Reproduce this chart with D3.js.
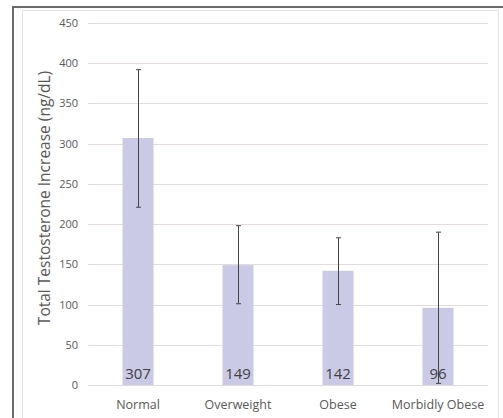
<!DOCTYPE html>
<html>
<head>
<meta charset="utf-8">
<script src="https://cdn.jsdelivr.net/npm/d3@7"></script>
<style>
  html, body { margin: 0; padding: 0; background: #fff; }
  svg { display: block; }
</style>
</head>
<body>
<svg id="chart" width="503" height="418"></svg>
<script>
// Mean testosterone increase by BMI group, with error bar bounds
const categories = ["Normal", "Overweight", "Obese", "Morbidly Obese"];
const means = [307, 149, 142, 96];
const errLow = [221, 101, 100, 2];
const errHigh = [392, 198, 183, 190];
const yTicks = [0, 50, 100, 150, 200, 250, 300, 350, 400, 450];
const yTitle = "Total Testosterone Increase (ng/dL)";

const svg = d3.select("#chart");
const font = "'Open Sans', 'Noto Sans', sans-serif";

// frame
svg.append("rect").attr("x", 13).attr("y", 7).attr("width", 500).attr("height", 420)
  .attr("fill", "none").attr("stroke", "#6b6b6b").attr("stroke-width", 2);
svg.append("rect").attr("x", 22.5).attr("y", 10.5).attr("width", 476).attr("height", 420)
  .attr("fill", "none").attr("stroke", "#e4e4e4").attr("stroke-width", 1);

const x = d3.scaleBand().domain(categories).range([88, 488]).paddingInner(0.69).paddingOuter(0.345);
const y = d3.scaleLinear().domain([0, 450]).range([385, 23]);

// gridlines
svg.append("g").selectAll("line").data(yTicks).join("line")
  .attr("x1", 88).attr("x2", 488)
  .attr("y1", d => Math.round(y(d)) + 0.5).attr("y2", d => Math.round(y(d)) + 0.5)
  .attr("stroke", "#e2dcdc").attr("stroke-width", 1);

// y axis tick labels
const yAxis = svg.append("g").attr("transform", "translate(88,0)")
  .call(d3.axisLeft(y).tickValues(yTicks).tickSize(0).tickPadding(10));
yAxis.select(".domain").remove();
yAxis.selectAll("text").attr("fill", "#595959").style("font-family", font).style("font-size", "11px");

// bars
svg.append("g").selectAll("rect").data(categories).join("rect")
  .attr("x", d => x(d)).attr("width", x.bandwidth())
  .attr("y", (d, i) => y(means[i])).attr("height", (d, i) => y(0) - y(means[i]))
  .attr("fill", "#cacae6");

// error bars
const eb = svg.append("g").attr("stroke", "#444").attr("stroke-width", 1);
categories.forEach((c, i) => {
  const cx = Math.round(x(c) + x.bandwidth() / 2) + 0.5;
  eb.append("line").attr("x1", cx).attr("x2", cx).attr("y1", y(errLow[i])).attr("y2", y(errHigh[i]));
  [errLow[i], errHigh[i]].forEach(v => {
    eb.append("line").attr("x1", cx - 2.5).attr("x2", cx + 2.5).attr("y1", y(v)).attr("y2", y(v));
  });
});

// value labels inside bars
svg.append("g").selectAll("text").data(categories).join("text")
  .attr("x", d => x(d) + x.bandwidth() / 2).attr("y", 379)
  .attr("text-anchor", "middle").attr("fill", "#404040")
  .style("font-family", font).style("font-size", "15px")
  .text((d, i) => means[i]);

// category axis
const xAxis = svg.append("g").attr("transform", "translate(0,385)")
  .call(d3.axisBottom(x).tickSize(0).tickPadding(15));
xAxis.select(".domain").remove();
xAxis.selectAll("text").attr("fill", "#595959").style("font-family", font).style("font-size", "12.5px");

// y axis title
svg.append("text")
  .attr("transform", "translate(50,198) rotate(-90)")
  .attr("text-anchor", "middle").attr("fill", "#595959")
  .style("font-family", font).style("font-size", "15.5px")
  .text(yTitle);
</script>
</body>
</html>
